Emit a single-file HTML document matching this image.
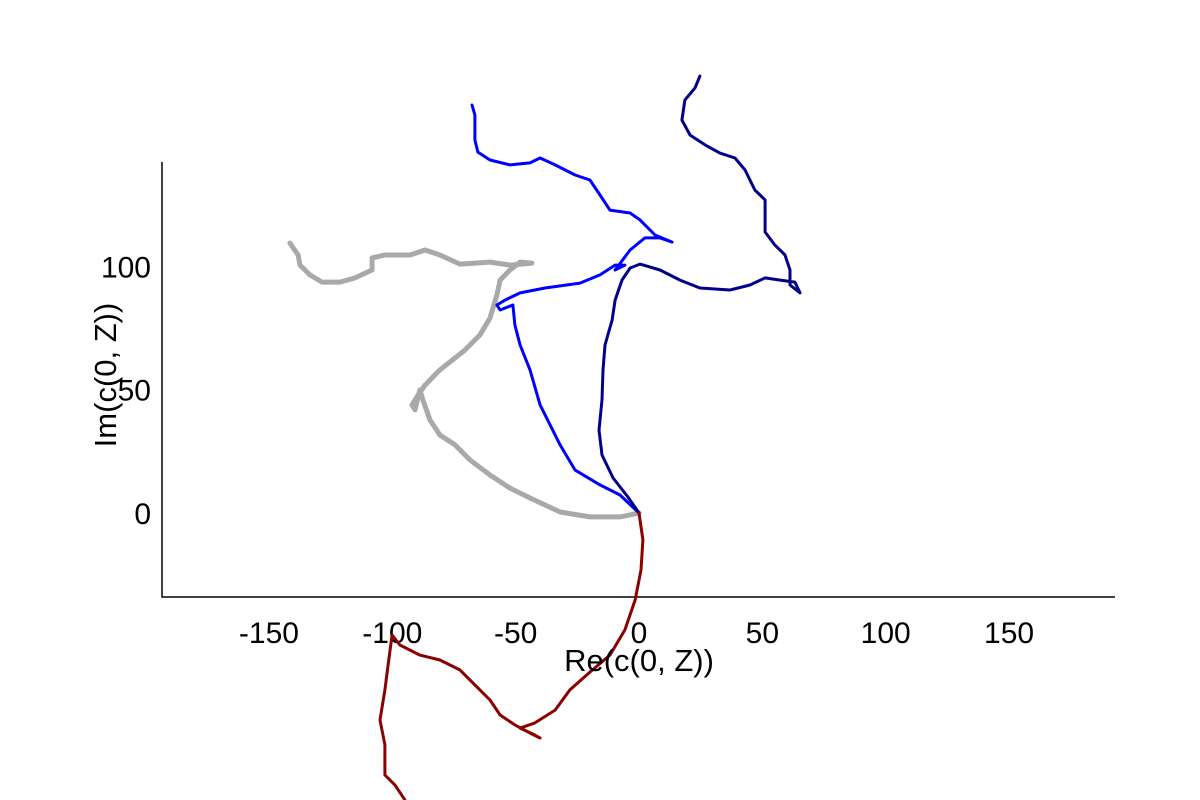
<!DOCTYPE html>
<html><head><meta charset="utf-8"><style>
html,body{margin:0;padding:0;background:#fff;}
svg{display:block;font-family:"Liberation Sans",sans-serif;}
</style></head><body>
<svg id="chart" width="1200" height="800"></svg>
<script>
const xTicks=[-150,-100,-50,0,50,100,150];
const yTicks=[0,50,100];
const navyX=[0,-4.5,-10.5,-15,-16.2,-15,-14.6,-13.8,-10.9,-9.7,-6.9,-3.6,0.4,8.5,16.6,24.7,36.9,45,51.1,57.2,63.2,65.3,61.2,61.2,59.2,55.1,51.1,51.1,47,43,38.9,32.8,26.8,20.7,17.4,18.6,22.7,24.7];
const navyY=[0,6.5,14.2,23.5,33.6,45.8,58,68.1,78.2,86.3,94.4,99.3,100.9,98.5,94.4,91.2,90.4,92.4,95.3,94.4,93.6,89.2,92.4,98.5,104.6,108.6,113.9,126.9,130.9,139,143.9,145.9,149.2,153.2,159.3,167.4,172.3,177.1];
const blueX=[0,-7.7,-15.8,-25.9,-32,-40.1,-44.2,-48.2,-50.3,-51.1,-56.3,-57.6,-54.3,-48.2,-38.1,-23.9,-15.8,-9.7,-5.7,-9.7,-3.6,2.4,8.5,13.4,6.5,0.4,-3.6,-11.8,-15.8,-19.9,-25.9,-34,-40.1,-44.2,-52.3,-60.4,-65.3,-66.5,-66.5,-67.7];
const blueY=[0,7.3,11.4,17.4,27.6,43.8,58,68.1,76.2,84.3,82.3,84.3,86.3,89.2,91.2,93.2,96.5,100.5,100.5,98.5,106.6,111.5,111.5,109.8,112.7,118.8,121.6,122.8,128.9,135,137,141.1,143.9,141.9,141.1,143.1,146.3,151.2,161.3,165.4];
const grayX=[0,-7.7,-19.9,-32,-44.2,-52.3,-60.4,-68.5,-74.6,-80.7,-84.7,-87.6,-88.8,-90.8,-92,-89.6,-86.7,-80.7,-70.5,-64.5,-60.4,-57.6,-56.3,-52.3,-48.2,-43.4,-52.3,-60.4,-72.6,-80.7,-86.7,-92.8,-103,-108.2,-108.2,-115.1,-121.2,-128.5,-133.4,-137.4,-138.2,-141.5];
const grayY=[0,-1.6,-1.6,0.4,6.1,10.1,15.4,21.5,27.6,31.6,37.7,45.8,49.9,41.8,43.8,47.8,51.9,58,66.1,72.2,79,88.4,94.4,98.5,101.7,101.3,100.5,101.7,100.9,104.6,106.6,104.6,104.6,103.4,98.5,95.3,93.6,93.6,96.5,100.5,104.6,109.4];
const redX=[0,1.6,0.8,-1.6,-5.7,-11.8,-19.9,-28,-34,-42.2,-48.2,-42.2,-40.1,-44.2,-50.3,-56.3,-60.4,-66.5,-72.6,-80.7,-88.8,-96.9,-100.1,-100.9,-101.7,-103,-105,-103,-103,-98.9,-94.9];
const redY=[0,-10.9,-23.1,-35.3,-47.4,-57.6,-64.5,-71.7,-79.9,-85.1,-87.2,-90,-91.2,-89.2,-85.9,-81.9,-75.8,-69.7,-63.6,-59.6,-57.6,-53.5,-49.5,-55.5,-61.6,-71.7,-83.9,-94,-106.2,-110.3,-116.3];

const svg=document.getElementById('chart');
const NS='http://www.w3.org/2000/svg';
const sx=v=>639+v*2.467;
const sy=v=>513-v*2.467;
function mk(tag,attrs){const e=document.createElementNS(NS,tag);for(const k in attrs)e.setAttribute(k,attrs[k]);svg.appendChild(e);return e;}

const ax=mk('path',{d:'M162,162 V597 H1115',fill:'none',stroke:'#000','stroke-width':1.5});



xTicks.forEach(t=>{
  const tx=mk('text',{x:sx(t),y:643,'font-size':30,'text-anchor':'middle'});
  tx.textContent=t;
  
  
});
yTicks.forEach(t=>{
  const tx=mk('text',{x:151,y:sy(t)+11,'font-size':30,'text-anchor':'end'});
  tx.textContent=t;
  
  
});

function series(xs,ys,color,w,name){
  const d=xs.map((x,i)=>(i?'L':'M')+sx(x).toFixed(1)+','+sy(ys[i]).toFixed(1)).join(' ');
  const p=mk('path',{d:d,fill:'none',stroke:color,'stroke-width':w,'stroke-linejoin':'round','stroke-linecap':'round'});
  
  
}
series(grayX,grayY,'#a9a9a9',5,'series-gray');
series(blueX,blueY,'#0000ff',3,'series-blue');
series(navyX,navyY,'#00008b',3,'series-navy');
series(redX,redY,'#8b0000',3,'series-darkred');

const xt=mk('text',{x:639,y:671,'font-size':31,'text-anchor':'middle'});
xt.textContent='Re(c(0, Z))';


const yt=mk('text',{x:0,y:0,'font-size':31,'text-anchor':'middle',transform:'translate(116,375) rotate(-90)'});
yt.textContent='Im(c(0, Z))';


</script>
</body></html>
